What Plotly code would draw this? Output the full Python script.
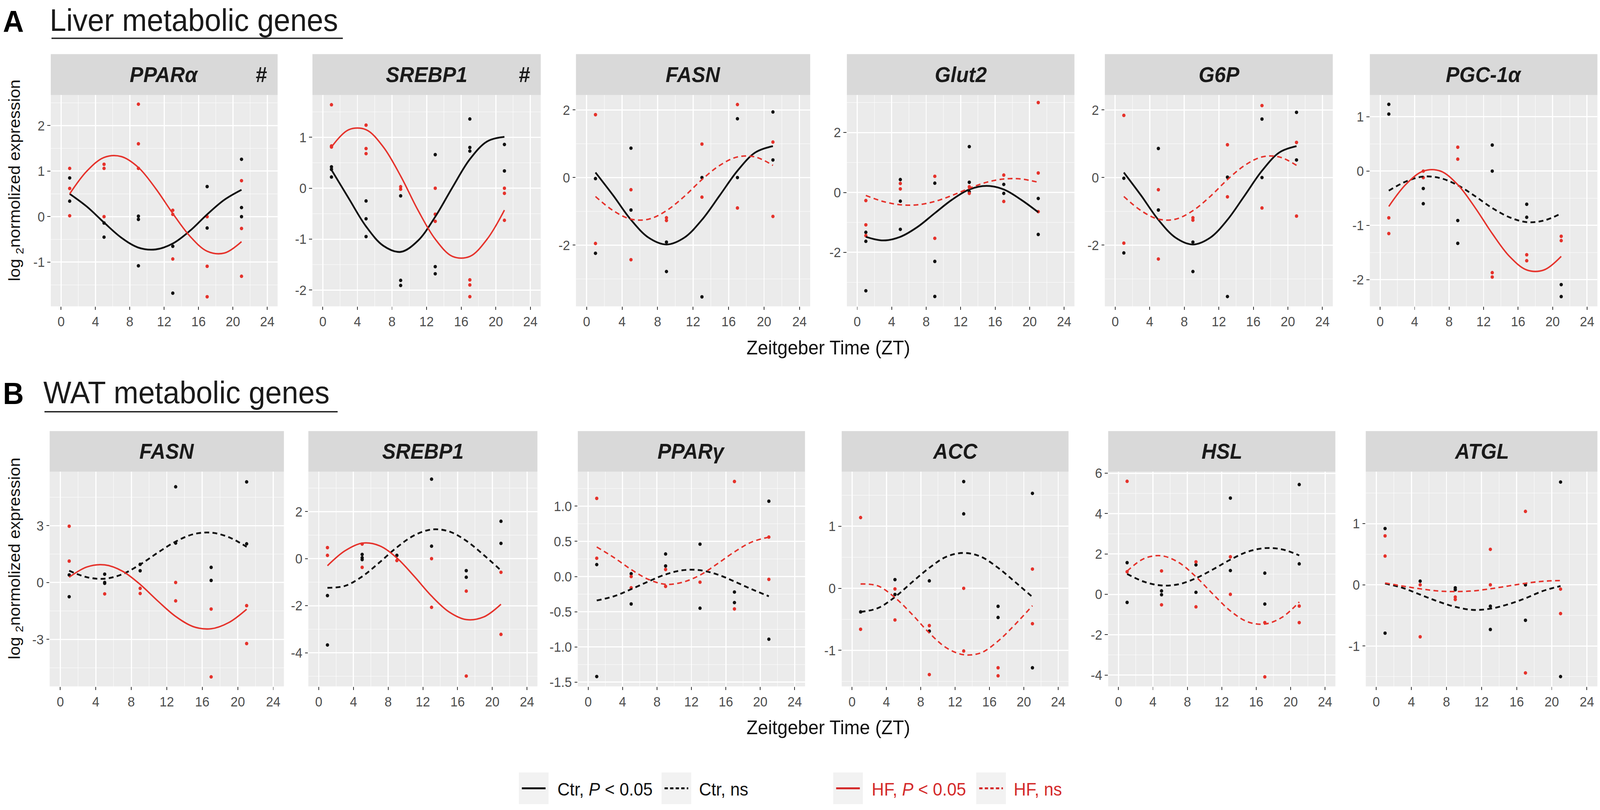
import plotly.graph_objects as go

W, H = 4317, 2073
FONT = "Liberation Sans, Arial, Helvetica, sans-serif"

# ---------------- data ----------------
ZT = [1, 5, 9, 13, 17, 21]                       # sampling times
FIT_T = [1, 3, 5, 7, 9, 11, 13, 15, 17, 19, 21]  # times where fitted curves were read
X_TICKS = [0, 4, 8, 12, 16, 20, 24]

# Liver (row A)
liver_genes = ["PPARα", "SREBP1", "FASN", "Glut2", "G6P", "PGC-1α"]
liver_hash = [True, True, False, False, False, False]
liver_ctr_sig = [True, True, True, True, True, False]
liver_hf_sig = [True, True, False, False, False, True]

PPARa_ctr = [[0.85, 0.34], [-0.14, -0.45], [0.01, -0.06, -1.08], [-0.65, -1.68], [0.66, -0.25], [1.26, 0.2, 0.0]]
PPARa_hf = [[1.06, 0.62, 0.02], [1.15, 1.06, 0.0], [2.47, 1.6, 1.06], [0.14, 0.05, -0.93], [0.0, -1.09, -1.76], [0.79, -0.26, -1.31]]
PPARa_ctr_fit = [0.50, 0.22, -0.13, -0.46, -0.68, -0.72, -0.59, -0.31, 0.05, 0.37, 0.59]
PPARa_hf_fit = [0.50, 1.00, 1.30, 1.32, 1.08, 0.62, 0.07, -0.43, -0.76, -0.80, -0.55]

SREBP1L_ctr = [[0.42, 0.37, 0.22], [-0.25, -0.6, -0.95], [-0.15, -1.81, -1.91], [0.66, -1.54, -1.68], [1.36, 0.8, 0.73], [0.86, 0.34]]
SREBP1L_hf = [[1.64, 0.83, 0.81], [1.24, 0.78, 0.68], [0.03, -0.02], [0.0, -0.51, -0.65], [-1.8, -1.9, -2.13], [0.0, -0.1, -0.63]]
SREBP1L_ctr_fit = [0.36, -0.20, -0.75, -1.13, -1.25, -1.03, -0.56, 0.02, 0.57, 0.92, 1.01]
SREBP1L_hf_fit = [0.81, 1.15, 1.15, 0.81, 0.24, -0.43, -1.00, -1.34, -1.34, -1.00, -0.43]

FASNL_ctr = [[-0.03, -2.24], [0.87, -0.96], [-1.91, -2.78], [0.0, -3.53], [1.74, 0.0], [1.94, 0.52]]
FASNL_hf = [[1.86, -1.95], [-0.36, -2.43], [-1.19, -1.27], [0.99, -0.58], [2.16, -0.9], [1.05, -1.15]]
FASNL_ctr_fit = [0.15, -0.53, -1.25, -1.78, -1.98, -1.78, -1.25, -0.53, 0.20, 0.74, 0.93]
FASNL_hf_fit = [-0.56, -0.98, -1.23, -1.23, -0.98, -0.56, -0.06, 0.36, 0.61, 0.61, 0.36]

Glut2_ctr = [[-1.33, -1.63, -3.28], [0.43, -0.29, -1.23], [0.31, -2.3, -3.47], [1.53, 0.34, 0.02], [0.27, -0.03], [-0.2, -1.4]]
Glut2_hf = [[-0.27, -1.08, -1.44], [0.3, 0.12], [0.54, -1.53], [0.19, -0.03], [0.58, -0.3], [3.0, 0.65, -0.64]]
Glut2_ctr_fit = [-1.48, -1.60, -1.48, -1.15, -0.69, -0.24, 0.10, 0.22, 0.10, -0.24, -0.66]
Glut2_hf_fit = [-0.10, -0.30, -0.41, -0.41, -0.30, -0.10, 0.14, 0.34, 0.45, 0.45, 0.34]

G6P_ctr = [[-0.02, -2.23], [0.86, -0.96], [-1.91, -2.78], [0.01, -3.52], [1.73, 0.0], [1.93, 0.52]]
G6P_hf = [[1.84, -1.94], [-0.36, -2.41], [-1.19, -1.26], [0.97, -0.57], [2.13, -0.9], [1.04, -1.14]]
G6P_ctr_fit = [0.15, -0.53, -1.25, -1.78, -1.98, -1.78, -1.25, -0.53, 0.20, 0.74, 0.93]
G6P_hf_fit = [-0.56, -0.98, -1.23, -1.23, -0.98, -0.56, -0.06, 0.36, 0.61, 0.61, 0.36]

PGC1a_ctr = [[1.23, 1.05], [-0.32, -0.6], [-0.91, -1.33], [0.48, 0.0], [-0.61, -0.85], [-2.09, -2.31]]
PGC1a_hf = [[-0.86, -1.15], [0.0, -0.12], [0.44, 0.22], [-1.87, -1.95], [-1.54, -1.65], [-1.2, -1.28]]
PGC1a_ctr_fit = [-0.36, -0.19, -0.10, -0.13, -0.26, -0.46, -0.68, -0.85, -0.94, -0.91, -0.78]
PGC1a_hf_fit = [-0.65, -0.24, 0.00, 0.00, -0.25, -0.67, -1.15, -1.57, -1.82, -1.82, -1.57]

# WAT (row B)
wat_genes = ["FASN", "SREBP1", "PPARγ", "ACC", "HSL", "ATGL"]
wat_hash = [False] * 6
wat_ctr_sig = [False, False, False, False, False, False]
wat_hf_sig = [True, True, False, False, False, False]

FASNW_ctr = [[0.4, -0.75], [0.44, 0.0, -0.04], [0.96, 0.62], [5.05, 2.08], [0.8, 0.11], [5.31, 2.04]]
FASNW_hf = [[2.97, 1.13], [-0.6], [-0.31, -0.58], [0.0, -0.97], [-1.4, -4.98], [-1.22, -3.22]]
FASNW_ctr_fit = [0.62, 0.28, 0.20, 0.44, 0.95, 1.58, 2.16, 2.55, 2.63, 2.39, 1.88]
FASNW_hf_fit = [0.28, 0.82, 0.93, 0.60, -0.10, -0.98, -1.79, -2.33, -2.44, -2.11, -1.41]

SREBP1W_ctr = [[-1.57, -3.67], [0.18, 0.04, -0.04], [0.14], [3.38, 0.53], [-0.51, -0.79], [1.59, 0.65]]
SREBP1W_hf = [[0.47, 0.14], [0.62, -0.37], [-0.08], [0.0, -2.07], [-1.38, -4.99], [-0.58, -3.22]]
SREBP1W_ctr_fit = [-1.24, -1.16, -0.76, -0.16, 0.48, 0.99, 1.24, 1.16, 0.76, 0.16, -0.50]
SREBP1W_hf_fit = [-0.30, 0.33, 0.66, 0.55, 0.03, -0.75, -1.59, -2.26, -2.59, -2.48, -1.94]

PPARg_ctr = [[0.17, -1.42], [0.04, -0.39], [0.32, 0.15], [0.46, -0.45], [-0.22, -0.37], [1.07, -0.89]]
PPARg_hf = [[1.11, 0.26], [0.0, -0.16], [0.1, -0.14], [-0.08], [1.35, -0.46], [0.56, -0.04]]
PPARg_ctr_fit = [-0.34, -0.28, -0.18, -0.07, 0.03, 0.09, 0.09, 0.03, -0.07, -0.18, -0.28]
PPARg_hf_fit = [0.42, 0.27, 0.10, -0.04, -0.11, -0.08, 0.02, 0.18, 0.35, 0.49, 0.56]

ACC_ctr = [[-0.38], [0.14, -0.1], [0.12, -0.69], [1.72, 1.2], [-0.29, -0.47], [1.53, -1.28]]
ACC_hf = [[1.14, -0.66], [-0.01, -0.51], [-0.6, -1.39], [0.0, -1.01], [-1.28, -1.41], [0.31, -0.57]]
ACC_ctr_fit = [-0.38, -0.32, -0.14, 0.10, 0.33, 0.51, 0.57, 0.51, 0.33, 0.10, -0.14]
ACC_hf_fit = [0.07, 0.04, -0.15, -0.42, -0.72, -0.96, -1.07, -1.04, -0.85, -0.58, -0.28]

HSL_ctr = [[1.57, -0.4], [0.17, -0.02], [1.46, 0.1], [4.77, 1.18], [1.05, -0.48], [5.44, 1.51]]
HSL_hf = [[5.6, 1.12], [1.16, -0.52], [1.61, -0.62], [1.86, 0.0], [-1.4, -4.09], [-0.58, -1.4]]
HSL_ctr_fit = [1.01, 0.62, 0.44, 0.50, 0.80, 1.24, 1.72, 2.11, 2.29, 2.23, 1.93]
HSL_hf_fit = [1.15, 1.78, 1.91, 1.58, 0.87, 0.00, -0.82, -1.36, -1.47, -1.14, -0.38]

ATGL_ctr = [[0.92, -0.79], [0.06], [-0.05, -0.08], [-0.35, -0.73], [0.0, -0.58], [1.68, -1.5]]
ATGL_hf = [[0.8, 0.47], [0.0, -0.85], [-0.2, -0.24], [0.58, 0.0], [1.2, -1.44], [-0.07, -0.47]]
ATGL_ctr_fit = [0.02, -0.05, -0.16, -0.27, -0.36, -0.41, -0.39, -0.32, -0.22, -0.10, -0.02]
ATGL_hf_fit = [0.03, -0.02, -0.065, -0.10, -0.11, -0.10, -0.065, -0.02, 0.025, 0.058, 0.07]

# y-axis ranges and tick labels per panel
liver_yrange = [[-1.97, 2.67], [-2.32, 1.83], [-3.81, 2.44], [-3.8, 3.25], [-3.81, 2.44], [-2.49, 1.40]]
liver_yticks = [[-1, 0, 1, 2], [-2, -1, 0, 1], [-2, 0, 2], [-2, 0, 2], [-2, 0, 2], [-2, -1, 0, 1]]
wat_yrange = [[-5.48, 5.85], [-5.43, 3.7], [-1.56, 1.49], [-1.58, 1.88], [-4.56, 6.08], [-1.66, 1.85]]
wat_yticks = [[-3, 0, 3], [-4, -2, 0, 2], [-1.5, -1.0, -0.5, 0.0, 0.5, 1.0], [-1, 0, 1], [-4, -2, 0, 2, 4, 6], [-1, 0, 1]]

liver_pts = [(PPARa_ctr, PPARa_hf, PPARa_ctr_fit, PPARa_hf_fit),
             (SREBP1L_ctr, SREBP1L_hf, SREBP1L_ctr_fit, SREBP1L_hf_fit),
             (FASNL_ctr, FASNL_hf, FASNL_ctr_fit, FASNL_hf_fit),
             (Glut2_ctr, Glut2_hf, Glut2_ctr_fit, Glut2_hf_fit),
             (G6P_ctr, G6P_hf, G6P_ctr_fit, G6P_hf_fit),
             (PGC1a_ctr, PGC1a_hf, PGC1a_ctr_fit, PGC1a_hf_fit)]
wat_pts = [(FASNW_ctr, FASNW_hf, FASNW_ctr_fit, FASNW_hf_fit),
           (SREBP1W_ctr, SREBP1W_hf, SREBP1W_ctr_fit, SREBP1W_hf_fit),
           (PPARg_ctr, PPARg_hf, PPARg_ctr_fit, PPARg_hf_fit),
           (ACC_ctr, ACC_hf, ACC_ctr_fit, ACC_hf_fit),
           (HSL_ctr, HSL_hf, HSL_ctr_fit, HSL_hf_fit),
           (ATGL_ctr, ATGL_hf, ATGL_ctr_fit, ATGL_hf_fit)]

# ---------------- layout geometry (pixels) ----------------
COLS = [[(137, 749), (843, 1459), (1554, 2186), (2285, 2899), (2981, 3596), (3696, 4310)],
        [(134, 766), (832, 1450), (1559, 2172), (2271, 2883), (2990, 3603), (3685, 4310)]]
PLOT_Y = [(230, 777), (1205, 1761)]
STRIP_TOP = [124, 1100]

BLACK = "#111111"
RED = "#E5322B"
RED_TXT = "#D42A2A"
DASH = "13px,9px"
TICK_FONT = dict(size=35, color="#4D4D4D", family=FONT)


def X(px):
    return px / W


def Y(py):
    return 1 - py / H


def flat(groups):
    xs, ys = [], []
    for t, vals in zip(ZT, groups):
        for v in vals:
            xs.append(t)
            ys.append(v)
    return xs, ys


def fmt(v, dec):
    return ("%.1f" % v) if dec else ("%d" % round(v))


fig = go.Figure()
layout = dict(width=W, height=H, autosize=False, margin=dict(l=0, r=0, t=0, b=0),
              paper_bgcolor="white", plot_bgcolor="#EBEBEB", showlegend=False,
              font=dict(family=FONT))
shapes, annotations = [], []

rows = [(liver_genes, liver_hash, liver_ctr_sig, liver_hf_sig, liver_yrange, liver_yticks, liver_pts),
        (wat_genes, wat_hash, wat_ctr_sig, wat_hf_sig, wat_yrange, wat_yticks, wat_pts)]

idx = 0
for r, (genes, hashes, csig, hsig, yranges, yticks, pts) in enumerate(rows):
    ytop, ybot = PLOT_Y[r]
    for c in range(6):
        idx += 1
        ax = "" if idx == 1 else str(idx)
        x0, x1 = COLS[r][c]
        ctr, hf, ctr_fit, hf_fit = pts[c]
        ticks = yticks[c]
        dec = any(abs(t - round(t)) > 1e-9 for t in ticks)
        step = ticks[1] - ticks[0]
        lo, hi = yranges[c]
        minors = [t + step / 2 for t in ticks] + [ticks[0] - step / 2]
        minors = [m for m in minors if lo < m < hi]

        layout["xaxis" + ax] = dict(
            domain=[X(x0), X(x1)], anchor="y" + ax, range=[-1.2, 25.2],
            tickvals=X_TICKS, ticktext=[str(t) for t in X_TICKS],
            showgrid=True, gridcolor="white", gridwidth=2.6, zeroline=False, showline=False,
            ticks="outside", ticklen=8, tickwidth=2, tickcolor="#333333",
            tickfont=TICK_FONT,
            minor=dict(tickvals=[2, 6, 10, 14, 18, 22], showgrid=True, gridcolor="white",
                       gridwidth=1.3, ticks=""),
            fixedrange=True)
        layout["yaxis" + ax] = dict(
            domain=[Y(ybot), Y(ytop)], anchor="x" + ax, range=[lo, hi],
            tickvals=ticks, ticktext=[fmt(t, dec) for t in ticks],
            showgrid=True, gridcolor="white", gridwidth=2.6, zeroline=False, showline=False,
            ticks="outside", ticklen=8, tickwidth=2, tickcolor="#333333",
            tickfont=TICK_FONT,
            minor=dict(tickvals=minors, showgrid=True, gridcolor="white", gridwidth=1.3, ticks=""),
            fixedrange=True)

        cx, cy = flat(ctr)
        hx, hy = flat(hf)
        fig.add_trace(go.Scatter(x=cx, y=cy, mode="markers", xaxis="x" + ax, yaxis="y" + ax,
                                 marker=dict(color=BLACK, size=9), hoverinfo="skip"))
        fig.add_trace(go.Scatter(x=hx, y=hy, mode="markers", xaxis="x" + ax, yaxis="y" + ax,
                                 marker=dict(color=RED, size=9), hoverinfo="skip"))
        fig.add_trace(go.Scatter(x=FIT_T, y=ctr_fit, mode="lines", xaxis="x" + ax, yaxis="y" + ax,
                                 line=dict(color=BLACK, width=4.6, shape="spline", smoothing=1.0,
                                           dash="solid" if csig[c] else DASH), hoverinfo="skip"))
        fig.add_trace(go.Scatter(x=FIT_T, y=hf_fit, mode="lines", xaxis="x" + ax, yaxis="y" + ax,
                                 line=dict(color=RED, width=3.8, shape="spline", smoothing=1.0,
                                           dash="solid" if hsig[c] else DASH), hoverinfo="skip"))

        # facet strip
        shapes.append(dict(type="rect", xref="paper", yref="paper", x0=X(x0), x1=X(x1),
                           y0=Y(ytop), y1=Y(STRIP_TOP[r]), fillcolor="#D9D9D9", line=dict(width=0),
                           layer="below"))
        annotations.append(dict(xref="paper", yref="paper", x=X((x0 + x1) / 2),
                                y=Y((ytop + STRIP_TOP[r]) / 2), text="<b><i>%s</i></b>" % genes[c],
                                showarrow=False, xanchor="center", yanchor="middle",
                                font=dict(size=55, color="#1A1A1A", family=FONT)))
        if hashes[c]:
            annotations.append(dict(xref="paper", yref="paper", x=X(x1 - 26),
                                    y=Y((ytop + STRIP_TOP[r]) / 2), text="<b>#</b>",
                                    showarrow=False, xanchor="right", yanchor="middle",
                                    font=dict(size=55, color="#1A1A1A", family=FONT)))

# y-axis titles
for yc in [451, 1430]:
    annotations.append(dict(xref="paper", yref="paper", x=X(42), y=Y(yc), textangle=-90,
                            text="log <sub>2</sub>normolized expression", showarrow=False,
                            xanchor="center", yanchor="middle",
                            font=dict(size=43, color="#111111", family=FONT)))
# x-axis titles
for yc in [884, 1868]:
    annotations.append(dict(xref="paper", yref="paper", x=X(2235), y=Y(yc),
                            text="Zeitgeber Time (ZT)", showarrow=False,
                            xanchor="center", yanchor="middle",
                            font=dict(size=50, color="#111111", family=FONT)))

# section titles
for lab, title, lx, tx, ymid, yline, ux0, ux1 in [("A", "Liver metabolic genes", 6, 132, 36, 83, 139, 925),
                                                  ("B", "WAT metabolic genes", 6, 115, 1000, 1050, 120, 911)]:
    annotations.append(dict(xref="paper", yref="paper", x=X(lx), y=Y(ymid + 3), text="<b>%s</b>" % lab,
                            showarrow=False, xanchor="left", yanchor="middle",
                            font=dict(size=78, color="black", family=FONT)))
    annotations.append(dict(xref="paper", yref="paper", x=X(tx), y=Y(ymid), text=title,
                            showarrow=False, xanchor="left", yanchor="middle",
                            font=dict(size=80, color="#1A1A1A", family=FONT)))
    shapes.append(dict(type="line", xref="paper", yref="paper", x0=X(ux0), x1=X(ux1),
                       y0=Y(yline), y1=Y(yline), line=dict(color="#222222", width=3.5)))

# legend (keys + labels)
legend_items = [("Ctr, <i>P</i> &lt; 0.05", BLACK, "solid", 1400, 1502, "#111111"),
                ("Ctr, ns", BLACK, "dash", 1785, 1884, "#111111"),
                ("HF, <i>P</i> &lt; 0.05", RED_TXT, "solid", 2248, 2350, RED_TXT),
                ("HF, ns", RED_TXT, "dash", 2634, 2733, RED_TXT)]
LEG_Y0, LEG_Y1 = 1984, 2066
for text, col, ds, kx, tx, tcol in legend_items:
    shapes.append(dict(type="rect", xref="paper", yref="paper", x0=X(kx), x1=X(kx + 80),
                       y0=Y(LEG_Y1), y1=Y(LEG_Y0), fillcolor="#F2F2F2", line=dict(width=0)))
    shapes.append(dict(type="line", xref="paper", yref="paper", x0=X(kx + 8), x1=X(kx + 72),
                       y0=Y((LEG_Y0 + LEG_Y1) / 2), y1=Y((LEG_Y0 + LEG_Y1) / 2),
                       line=dict(color=col, width=5, dash="solid" if ds == "solid" else "9px,6px")))
    annotations.append(dict(xref="paper", yref="paper", x=X(tx), y=Y((LEG_Y0 + LEG_Y1) / 2 + 2),
                            text=text, showarrow=False, xanchor="left", yanchor="middle",
                            font=dict(size=46, color=tcol, family=FONT)))

layout["shapes"] = shapes
layout["annotations"] = annotations
fig.update_layout(**layout)

# Stretch the fixed-size figure so it exactly fills the browser viewport.
FIT_JS = """
var gd = document.getElementById('{plot_id}');
document.documentElement.style.margin = '0';
document.body.style.margin = '0';
document.documentElement.style.overflow = 'hidden';
document.body.style.overflow = 'hidden';
var sx = window.innerWidth / %d, sy = window.innerHeight / %d;
if (Math.abs(sx - 1) > 0.002 || Math.abs(sy - 1) > 0.002) {
  gd.style.transformOrigin = '0 0';
  gd.style.transform = 'scale(' + sx + ',' + sy + ')';
}
""" % (W, H)

fig.write_html("out.html", post_script=FIT_JS, config={"displayModeBar": False})
